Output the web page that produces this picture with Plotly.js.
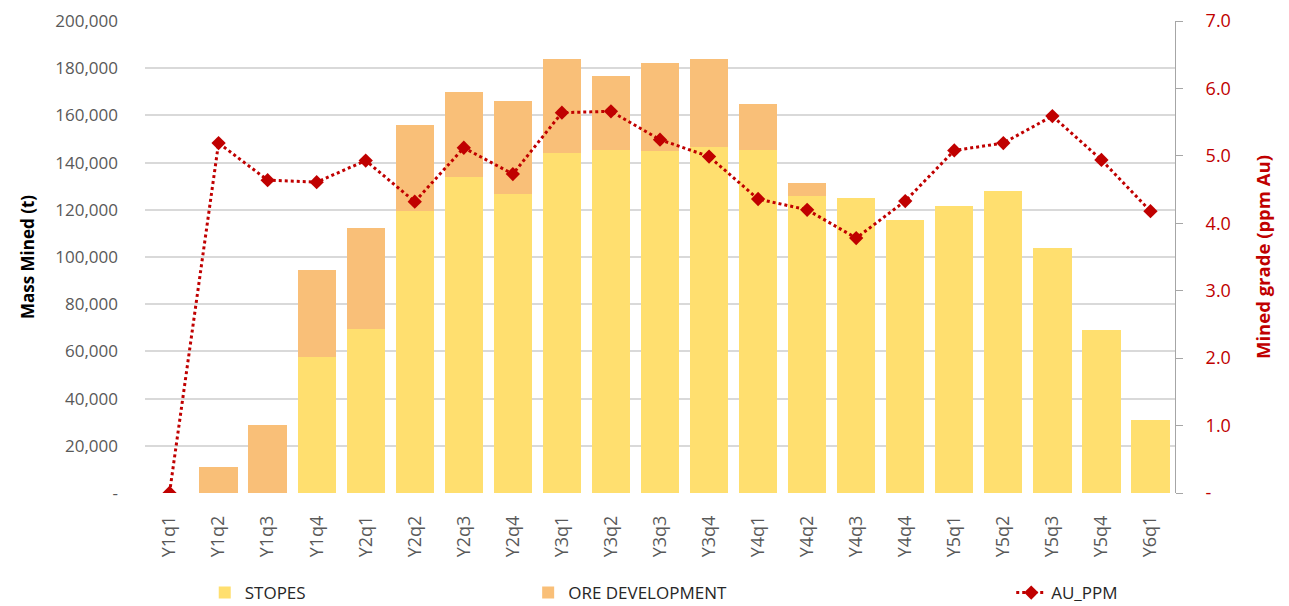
<!DOCTYPE html>
<html>
<head>
<meta charset="utf-8">
<script src="https://cdn.plot.ly/plotly-3.0.1.min.js"></script>
<style>html,body{margin:0;padding:0;background:#fff;}#chart{width:1289px;height:606px;}</style>
</head>
<body>
<div id="chart"></div>
<script>
const quarters = ["Y1q1","Y1q2","Y1q3","Y1q4","Y2q1","Y2q2","Y2q3","Y2q4","Y3q1","Y3q2","Y3q3","Y3q4","Y4q1","Y4q2","Y4q3","Y4q4","Y5q1","Y5q2","Y5q3","Y5q4","Y6q1"];
const stopes = [0,0,0,57500,69500,119500,134000,126500,144000,145500,145000,146500,145500,126000,125000,115500,121500,128000,104000,69000,31000];
const oreDevelopment = [0,11000,29000,37000,43000,36500,36000,39500,40000,31000,37000,37500,19500,5500,0,0,0,0,0,0,0];
const auPpm = [0,5.19,4.64,4.61,4.93,4.32,5.12,4.73,5.64,5.66,5.24,4.99,4.36,4.20,3.78,4.33,5.08,5.19,5.59,4.94,4.18];
const massTickVals = [0,20000,40000,60000,80000,100000,120000,140000,160000,180000,200000];
const massTickText = ["-","20,000","40,000","60,000","80,000","100,000","120,000","140,000","160,000","180,000","200,000"];
const gradeTickVals = [0,1,2,3,4,5,6,7];
const gradeTickText = ["-","1.0","2.0","3.0","4.0","5.0","6.0","7.0"];

const FONT = "Open Sans, Noto Sans, sans-serif";
const traces = [
  {type:"bar", name:"STOPES", x:quarters, y:stopes, marker:{color:"#FFDF6F"}, legend:"legend"},
  {type:"bar", name:"ORE DEVELOPMENT", x:quarters, y:oreDevelopment, marker:{color:"#F9BF78"}, legend:"legend2"},
  {type:"scatter", mode:"lines+markers", name:"AU_PPM", x:quarters, y:auPpm, yaxis:"y2",
   line:{color:"#C00000", width:3, dash:"dot"}, marker:{symbol:"diamond", size:11, color:"#C00000"}, legend:"legend3"}
];
const legendBase = {orientation:"h", yanchor:"middle", y:-0.212, xanchor:"left", bgcolor:"rgba(0,0,0,0)",
  font:{family:FONT, size:17, color:"#262626"}};
const layout = {
  width:1289, height:606,
  margin:{l:145, r:114, t:21, b:113, autoexpand:false},
  paper_bgcolor:"#fff", plot_bgcolor:"#fff",
  barmode:"stack", bargap:0.22,
  font:{family:FONT, color:"#595959"},
  xaxis:{type:"category", range:[-0.5, 20.5], tickangle:-90, tickfont:{size:18, color:"#595959"},
    showline:false, ticks:"", ticklabelstandoff:18, automargin:false,
    showgrid:false, zeroline:false},
  yaxis:{range:[0,200000], tickvals:massTickVals, ticktext:massTickText, tickfont:{size:17, color:"#595959"},
    showgrid:true, gridcolor:"#D9D9D9", gridwidth:2, zeroline:false, showline:false, ticks:"", ticklabelstandoff:26,
    automargin:false,
    title:{text:"<b>Mass Mined (t)</b>", font:{size:17, color:"#000"}, standoff:16}},
  yaxis2:{range:[0,7], overlaying:"y", side:"right", tickvals:gradeTickVals, ticktext:gradeTickText,
    tickfont:{size:18, color:"#C00000"}, showgrid:false, zeroline:false, showline:true, linecolor:"#A6A6A6", linewidth:1,
    ticks:"outside", ticklen:7, tickcolor:"#A6A6A6", ticklabelstandoff:19, automargin:false,
    title:{text:"<b>Mined grade (ppm Au)</b>", font:{size:18.5, color:"#C00000"}, standoff:27}},
  showlegend:true,
  legend:Object.assign({}, legendBase, {x:0.058}),
  legend2:Object.assign({}, legendBase, {x:0.372}),
  legend3:Object.assign({}, legendBase, {x:0.841})
};
Plotly.newPlot("chart", traces, layout, {displayModeBar:false, staticPlot:true});
</script>
</body>
</html>
